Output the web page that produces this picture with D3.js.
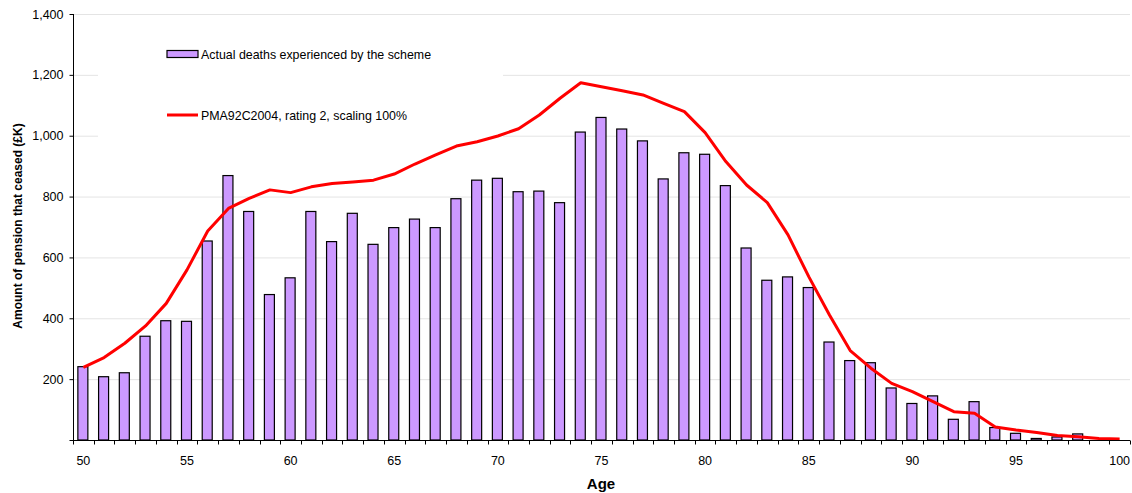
<!DOCTYPE html>
<html>
<head>
<meta charset="utf-8">
<script src="https://d3js.org/d3.v7.min.js"></script>
<style>
  html, body { margin: 0; padding: 0; background: #fff; }
  svg { display: block; font-family: "Liberation Sans", Arial, sans-serif; }
</style>
</head>
<body>
<svg id="chart" width="1132" height="493"></svg>
<script>
const ages = d3.range(50, 101);
const actualDeaths = [241, 208, 221, 341, 392, 390, 654, 869, 751, 478,
  533, 751, 652, 745, 643, 698, 726, 698, 793, 854,
  860, 816, 818, 780, 1012, 1060, 1022, 983, 858, 944,
  939, 836, 631, 525, 536, 501, 322, 261, 254, 171,
  120, 145, 68, 126, 41, 22, 5, 10, 20, 0, 0];
const expectedDeaths = [239, 271, 318, 375, 449, 559, 687, 761, 794, 822,
  813, 832, 843, 848, 854, 874, 907, 937, 966, 980,
  999, 1023, 1068, 1123, 1174, 1161, 1148, 1134, 1106, 1079,
  1010, 915, 838, 780, 674, 537, 411, 294, 236, 186,
  159, 126, 93, 88, 43, 33, 25, 15, 11, 5, 3];
const yTicks = [0, 200, 400, 600, 800, 1000, 1200, 1400];
const xLabelAges = [50, 55, 60, 65, 70, 75, 80, 85, 90, 95, 100];
const seriesNames = ["Actual deaths experienced by the scheme", "PMA92C2004, rating 2, scaling 100%"];

(function () {
const svg = d3.select("#chart");
const pLeft = 73, pRight = 1130, pTop = 14, pBottom = 440;

const x = d3.scaleBand().domain(ages).range([pLeft, pRight]).paddingInner(0).paddingOuter(0);
const y = d3.scaleLinear().domain([0, 1400]).range([pBottom, pTop]);

// gridlines
svg.append("g").selectAll("line").data(yTicks.filter(d => d > 0)).join("line")
  .attr("x1", pLeft).attr("x2", pRight)
  .attr("y1", d => y(d) + 0.5).attr("y2", d => y(d) + 0.5)
  .attr("stroke", "#e4e4e4").attr("stroke-width", 1);

// legend background (covers gridlines)
svg.append("rect").attr("x", 98).attr("y", 22).attr("width", 405).attr("height", 122).attr("fill", "#fff");

// bars
const bw = 10;
svg.append("g").selectAll("rect").data(ages.map((a, i) => ({a, v: actualDeaths[i]})).filter(d => d.v > 0)).join("rect")
  .attr("x", d => x(d.a) + x.bandwidth() / 2 - bw / 2 - 0.5)
  .attr("y", d => y(d.v))
  .attr("width", bw)
  .attr("height", d => y(0) - y(d.v))
  .attr("fill", "#cc99ff")
  .attr("stroke", "#000")
  .attr("stroke-width", 1.2);

// line
const line = d3.line().x((d, i) => x(ages[i]) + x.bandwidth() / 2).y(d => y(d));
svg.append("path").datum(expectedDeaths).attr("d", line)
  .attr("fill", "none").attr("stroke", "#ff0000").attr("stroke-width", 3).attr("stroke-linejoin", "round");

// y axis
const yAxis = d3.axisLeft(y).tickValues(yTicks).tickSize(4).tickPadding(6)
  .tickFormat(d => d === 0 ? "" : d3.format(",")(d));
const gy = svg.append("g").attr("transform", `translate(${pLeft + 0.5},0)`).call(yAxis);
gy.select(".domain").attr("stroke", "#000").attr("d", `M0,${pTop}V${pBottom}`);
gy.selectAll(".tick line").attr("stroke", "#000");
gy.selectAll(".tick text").attr("font-size", 12.5).attr("fill", "#000").attr("font-family", "Liberation Sans, Arial, sans-serif");

// x axis
const gx = svg.append("g").attr("transform", `translate(0,${pBottom + 0.5})`);
gx.append("line").attr("x1", pLeft).attr("x2", pRight).attr("y1", 0).attr("y2", 0).attr("stroke", "#000");
const boundaries = ages.map(a => x(a)).concat([pRight]);
gx.selectAll("line.tk").data(boundaries).join("line").attr("class", "tk")
  .attr("x1", d => Math.round(d) + 0.5).attr("x2", d => Math.round(d) + 0.5)
  .attr("y1", 0).attr("y2", 4).attr("stroke", "#000");
gx.selectAll("text").data(xLabelAges).join("text")
  .attr("x", d => x(d) + x.bandwidth() / 2).attr("y", 24)
  .attr("text-anchor", "middle").attr("font-size", 12.5).attr("fill", "#000")
  .text(d => d);

// axis titles
svg.append("text").attr("x", 601).attr("y", 489).attr("text-anchor", "middle")
  .attr("font-size", 15).attr("font-weight", "bold").text("Age");
svg.append("text").attr("transform", "translate(22,226) rotate(-90)").attr("text-anchor", "middle")
  .attr("font-size", 12).attr("font-weight", "bold").text("Amount of pension that ceased (£K)");

// legend
const lg = svg.append("g");
lg.append("rect").attr("x", 167).attr("y", 50.5).attr("width", 31).attr("height", 7)
  .attr("fill", "#cc99ff").attr("stroke", "#000").attr("stroke-width", 1.2);
lg.append("text").attr("x", 201).attr("y", 58.5).attr("font-size", 12.4).text(seriesNames[0]);
lg.append("line").attr("x1", 167).attr("x2", 198).attr("y1", 115).attr("y2", 115)
  .attr("stroke", "#ff0000").attr("stroke-width", 3);
lg.append("text").attr("x", 201).attr("y", 119.5).attr("font-size", 12.4).text(seriesNames[1]);
})();
</script>
</body>
</html>
